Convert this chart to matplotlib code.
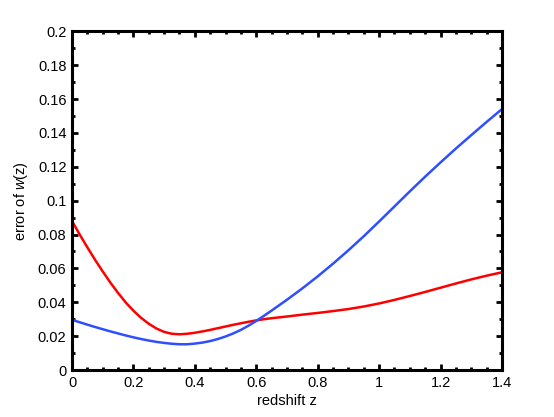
import matplotlib
matplotlib.use('Agg')
import matplotlib.pyplot as plt
from matplotlib.ticker import MultipleLocator

# redshift grid (finer where the curves bend) and error curves
z = [0.0, 0.025, 0.05, 0.075, 0.1, 0.125, 0.15, 0.175, 0.2, 0.225, 0.25, 0.275, 0.3,
     0.325, 0.35, 0.375, 0.4, 0.425, 0.45, 0.475, 0.5, 0.525, 0.55, 0.575, 0.6, 0.625,
     0.65, 0.675, 0.7, 0.75, 0.8, 0.85, 0.9, 0.95, 1.0, 1.05, 1.1, 1.15, 1.2, 1.25,
     1.3, 1.35, 1.4]
err_red = [0.0880, 0.0800, 0.0724, 0.0651, 0.0582, 0.0516, 0.0455, 0.0399, 0.0350,
           0.0308, 0.0273, 0.0245, 0.0225, 0.0214, 0.0211, 0.0214, 0.0220, 0.0228,
           0.0237, 0.0247, 0.0257, 0.0267, 0.0276, 0.0285, 0.0293, 0.0300, 0.0306,
           0.0311, 0.0316, 0.0327, 0.0337, 0.0348, 0.0360, 0.0375, 0.0393, 0.0414,
           0.0437, 0.0461, 0.0486, 0.0511, 0.0535, 0.0557, 0.0577]
# blue curve starts with a jump from zero at z=0
z_blue = [0.0] + z
err_blue = [0.0, 0.0296, 0.0282, 0.0268, 0.0254, 0.0241, 0.0228, 0.0216, 0.0204, 0.0193,
            0.0183, 0.0174, 0.0166, 0.0160, 0.0155, 0.0152, 0.0152, 0.0156, 0.0162,
            0.0171, 0.0183, 0.0198, 0.0216, 0.0237, 0.0262, 0.0290, 0.0320, 0.0351,
            0.0383, 0.0415, 0.0482, 0.0553, 0.0628, 0.0707, 0.0790, 0.0877, 0.0966,
            0.1055, 0.1142, 0.1226, 0.1308, 0.1387, 0.1465, 0.1541]

plt.rcParams['font.family'] = ['Liberation Sans', 'DejaVu Sans']
plt.rcParams['mathtext.fontset'] = 'custom'
plt.rcParams['mathtext.it'] = 'Liberation Sans:italic'

fig = plt.figure(figsize=(5.54, 4.17), dpi=100)
ax = fig.add_axes([0.130, 0.1127, 0.776, 0.812])

ax.plot(z, err_red, color='#ff0000', lw=1.8)
ax.plot(z_blue, err_blue, color='#2e4fff', lw=1.8)

ax.set_xlim(0, 1.4)
ax.set_ylim(0, 0.2)
ax.xaxis.set_minor_locator(MultipleLocator(0.05))
ax.yaxis.set_minor_locator(MultipleLocator(0.01))
ax.set_xticks([0, 0.2, 0.4, 0.6, 0.8, 1.0, 1.2, 1.4])
ax.set_yticks([0, 0.02, 0.04, 0.06, 0.08, 0.1, 0.12, 0.14, 0.16, 0.18, 0.2])
ax.set_xticklabels(['0', '0.2', '0.4', '0.6', '0.8', '1', '1.2', '1.4'])
ax.set_yticklabels(['0', '0.02', '0.04', '0.06', '0.08', '0.1', '0.12', '0.14',
                    '0.16', '0.18', '0.2'])

ax.tick_params(which='both', direction='in', top=True, right=True, labelsize=10.5, width=2)
ax.tick_params(which='major', length=4, pad=4)
ax.tick_params(which='minor', length=2)
for s in ax.spines.values():
    s.set_linewidth(2.2)

ax.set_xlabel('redshift z', fontsize=10.5, labelpad=3)
ax.set_ylabel('error of $w$(z)', fontsize=10.5, labelpad=6)

fig.savefig('out.png', dpi=100)
